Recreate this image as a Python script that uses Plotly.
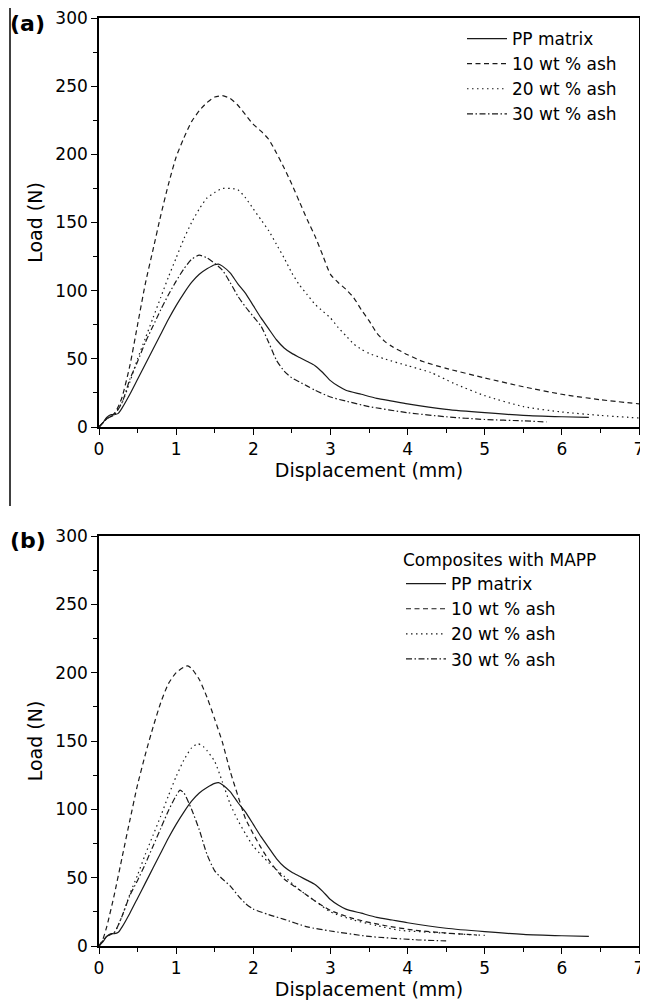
import plotly.graph_objects as go

# ---------------- Panel (a): without MAPP ----------------
a_pp_x = [0, 0.05, 0.1, 0.15, 0.2, 0.25, 0.3, 0.4, 0.5, 0.6, 0.7, 0.8, 0.9, 1.0, 1.1, 1.2, 1.3, 1.4, 1.5, 1.55,
          1.6, 1.7, 1.8, 1.9, 2.0, 2.1, 2.2, 2.3, 2.4, 2.5, 2.6, 2.7, 2.8, 2.9, 3.0, 3.1, 3.2, 3.4, 3.6, 3.8,
          4.0, 4.5, 5.0, 5.5, 6.0, 6.35]
a_pp_y = [0, 3, 7, 9, 9, 10, 14, 24, 35, 46, 57, 68, 79, 89, 98, 106, 112, 116, 119, 119.5,
          118, 113, 105, 98, 89, 80, 72, 64, 58, 54, 51, 48, 45, 40, 34, 30, 27, 24, 21, 19,
          17, 13, 10.5, 8.5, 7.5, 7]

a_10_x = [0, 0.1, 0.2, 0.25, 0.3, 0.4, 0.5, 0.6, 0.7, 0.8, 0.9, 1.0, 1.1, 1.2, 1.3, 1.4, 1.5, 1.6, 1.7, 1.8,
          1.9, 2.0, 2.1, 2.2, 2.3, 2.4, 2.5, 2.6, 2.7, 2.8, 2.9, 3.0, 3.1, 3.2, 3.3, 3.4, 3.5, 3.6, 3.7, 3.8,
          4.0, 4.2, 4.5, 5.0, 5.5, 6.0, 6.5, 7.0]
a_10_y = [0, 6, 10, 15, 22, 45, 75, 105, 130, 155, 178, 198, 212, 224, 232, 238, 242, 243, 241, 236,
          229, 222, 217, 211, 201, 190, 178, 165, 152, 140, 126, 112, 106, 101, 95, 86, 78, 69, 63, 59,
          53, 48, 43, 36, 29.5, 24, 20, 17]

a_20_x = [0, 0.1, 0.2, 0.3, 0.4, 0.5, 0.6, 0.7, 0.8, 0.9, 1.0, 1.1, 1.2, 1.3, 1.4, 1.5, 1.6, 1.7, 1.8, 1.9,
          2.0, 2.1, 2.2, 2.3, 2.4, 2.5, 2.6, 2.7, 2.8, 2.9, 3.0, 3.1, 3.2, 3.3, 3.4, 3.5, 3.7, 4.0, 4.3, 4.6,
          5.0, 5.5, 6.0, 6.5, 7.0]
a_20_y = [0, 6, 10, 18, 33, 50, 65, 80, 95, 110, 124, 138, 150, 160, 168, 172, 175, 175, 174, 168,
          160, 152, 144, 134, 124, 113, 104, 97, 90, 85, 80, 73, 67, 61, 57, 54, 50, 45, 40, 32,
          23, 15, 11, 8.5, 6.6]

a_30_x = [0, 0.1, 0.2, 0.3, 0.4, 0.5, 0.6, 0.7, 0.8, 0.9, 1.0, 1.1, 1.2, 1.3, 1.4, 1.5, 1.6, 1.7, 1.8, 1.9,
          2.0, 2.1, 2.2, 2.3, 2.4, 2.5, 2.6, 2.7, 2.8, 3.0, 3.2, 3.5, 4.0, 4.5, 5.0, 5.5, 5.8]
a_30_y = [0, 6, 9, 18, 35, 48, 62, 74, 86, 97, 107, 116, 123, 126, 124, 120, 115, 106, 96, 88,
          81, 74, 62, 49, 41, 36, 33, 30, 27, 22, 19, 15, 10.5, 7.5, 5.5, 4.5, 3.7]

# ---------------- Panel (b): composites with MAPP ----------------
b_pp_x = a_pp_x
b_pp_y = a_pp_y

b_10_x = [0, 0.05, 0.1, 0.2, 0.3, 0.4, 0.5, 0.6, 0.7, 0.8, 0.9, 1.0, 1.1, 1.15, 1.2, 1.3, 1.4, 1.5, 1.6, 1.7,
          1.8, 1.9, 2.0, 2.1, 2.2, 2.4, 2.6, 2.8, 3.0, 3.3, 3.7, 4.1, 4.5, 4.9]
b_10_y = [0, 5, 14, 38, 65, 92, 118, 140, 160, 178, 192, 200, 204, 205, 203, 195, 182, 166, 149, 128,
          110, 93, 82, 72, 63, 49, 41, 33, 26, 20, 15, 11.5, 9.5, 8]

b_20_x = [0, 0.1, 0.2, 0.3, 0.4, 0.5, 0.6, 0.7, 0.8, 0.9, 1.0, 1.1, 1.2, 1.28, 1.35, 1.4, 1.5, 1.6, 1.7, 1.8,
          1.9, 2.0, 2.2, 2.4, 2.6, 2.8, 3.0, 3.3, 3.6, 3.9, 4.3, 4.6, 5.0]
b_20_y = [0, 7, 10, 22, 38, 52, 67, 81, 95, 110, 124, 136, 145, 148, 146, 143, 135, 120, 104, 92,
          82, 73, 61, 51, 41, 33, 25, 19, 15, 11.5, 10, 9, 7.8]

b_30_x = [0, 0.1, 0.2, 0.3, 0.4, 0.5, 0.6, 0.7, 0.8, 0.9, 1.0, 1.05, 1.1, 1.2, 1.3, 1.4, 1.5, 1.6, 1.7, 1.8,
          1.9, 2.0, 2.2, 2.4, 2.7, 3.0, 3.5, 4.1, 4.5]
b_30_y = [0, 7, 10, 22, 37, 48, 60, 73, 86, 99, 110, 114, 112, 100, 85, 67, 55, 49, 44, 37,
          31, 27, 23, 19.5, 14, 11, 7, 4.6, 3.7]

series_names = ["PP matrix", "10 wt % ash", "20 wt % ash", "30 wt % ash"]
x_ticks = [0, 1, 2, 3, 4, 5, 6, 7]
y_ticks = [0, 50, 100, 150, 200, 250, 300]

dashes = ["solid", "5px,3.5px", "1.5px,3.5px", "6px,2.5px,1.5px,2.5px"]
line_color = "#1a1a1a"
FONT = "DejaVu Sans, Liberation Sans, Arial, sans-serif"

# The page body has an 8 px margin, so the figure is drawn 8 px in from the top-left.
OFF = 8
W, H = 640.0, 999.0
# target page-pixel positions of the plot frame
PAGE_L, PAGE_R, PAGE_T, PAGE_B = 99, 639, 18, 946
ML = PAGE_L - OFF
MR = W - (PAGE_R - OFF)
MT = PAGE_T - OFF
MB = H - (PAGE_B - OFF)
PW = W - ML - MR
PH = H - MT - MB


def px(xp):
    return (xp - PAGE_L) / PW


def py(yp):
    return (PAGE_B - yp) / PH


fig = go.Figure()

panel_a = [(a_pp_x, a_pp_y), (a_10_x, a_10_y), (a_20_x, a_20_y), (a_30_x, a_30_y)]
panel_b = [(b_pp_x, b_pp_y), (b_10_x, b_10_y), (b_20_x, b_20_y), (b_30_x, b_30_y)]

for (xs, ys), name, d in zip(panel_a, series_names, dashes):
    fig.add_trace(go.Scatter(x=xs, y=ys, name=name, mode="lines",
                             line=dict(color=line_color, width=1.2, dash=d, shape="spline", smoothing=0.6),
                             xaxis="x", yaxis="y", legend="legend"))
for (xs, ys), name, d in zip(panel_b, series_names, dashes):
    fig.add_trace(go.Scatter(x=xs, y=ys, name=name, mode="lines",
                             line=dict(color=line_color, width=1.2, dash=d, shape="spline", smoothing=0.6),
                             xaxis="x2", yaxis="y2", legend="legend2"))


def ax_common():
    return dict(showline=True, linecolor="black", linewidth=1.6, mirror=True,
                ticks="outside", ticklen=6, tickwidth=1.4, tickcolor="black",
                showgrid=False, zeroline=False, automargin=False,
                ticklabeloverflow="allow",
                tickfont=dict(family=FONT, size=17, color="black"))


xa = ax_common()
xa.update(range=[0, 7], tickvals=x_ticks,
          minor=dict(ticks="outside", ticklen=4, tickwidth=1.2, tickcolor="black", dtick=0.5, tick0=0),
          title=dict(text="Displacement (mm)", font=dict(family=FONT, size=19, color="black"), standoff=0))
ya = ax_common()
ya.update(range=[0, 300], tickvals=y_ticks,
          minor=dict(ticks="outside", ticklen=4, tickwidth=1.2, tickcolor="black", dtick=25, tick0=0),
          title=dict(text="Load (N)", font=dict(family=FONT, size=19, color="black"), standoff=8))

ydom_a = [py(427), py(18)]
ydom_b = [py(946), py(536)]

leg_font = dict(family=FONT, size=17, color="black")

fig.update_layout(
    width=W, height=H,
    margin=dict(l=ML, r=MR, t=MT, b=MB, autoexpand=False),
    paper_bgcolor="white", plot_bgcolor="white",
    font=dict(family=FONT, size=17, color="black"),
    xaxis=dict(**xa, domain=[0, 1], anchor="y"),
    yaxis=dict(**ya, domain=ydom_a, anchor="x"),
    xaxis2=dict(**xa, domain=[0, 1], anchor="y2"),
    yaxis2=dict(**ya, domain=ydom_b, anchor="x2"),
    legend=dict(x=px(462), y=py(21), xanchor="left", yanchor="top",
                bgcolor="rgba(0,0,0,0)", font=leg_font, tracegroupgap=0, itemwidth=40),
    legend2=dict(x=px(401), y=py(544), xanchor="left", yanchor="top",
                 bgcolor="rgba(0,0,0,0)", font=leg_font,
                 title=dict(text="Composites with MAPP", side="top", font=leg_font),
                 tracegroupgap=0, itemwidth=40),
    showlegend=True,
    annotations=[
        dict(text="<b>(a)</b>", x=px(8), y=py(23), xref="paper", yref="paper",
             xanchor="left", yanchor="middle", showarrow=False,
             font=dict(family=FONT, size=22, color="black")),
        dict(text="<b>(b)</b>", x=px(8), y=py(540), xref="paper", yref="paper",
             xanchor="left", yanchor="middle", showarrow=False,
             font=dict(family=FONT, size=22, color="black")),
    ],
    shapes=[
        dict(type="line", xref="paper", yref="paper", x0=px(10), x1=px(10), y0=py(8), y1=py(506),
             line=dict(color="black", width=1.5)),
    ],
)

fig.write_html("out.html")
